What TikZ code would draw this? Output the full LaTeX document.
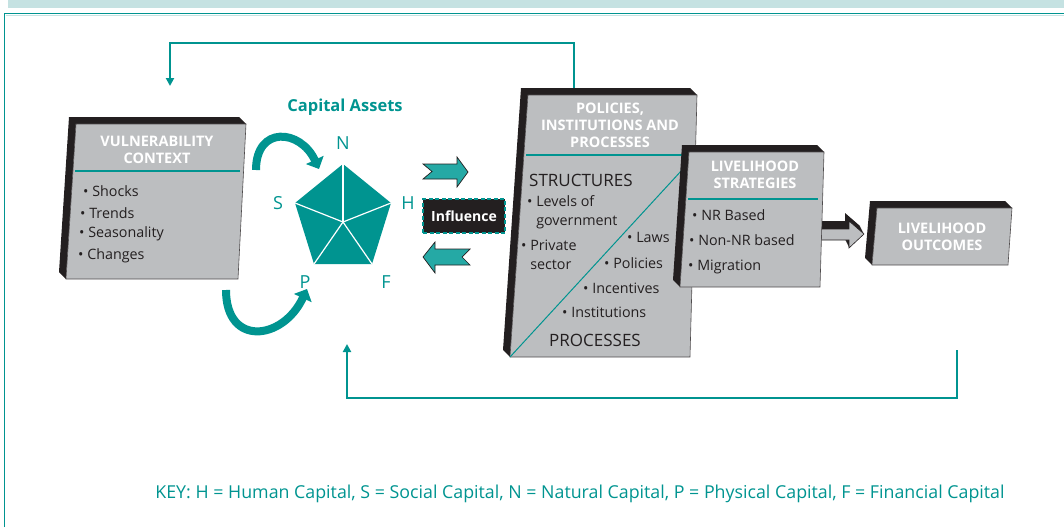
\documentclass[tikz,border=0pt]{standalone}
\usepackage{fontspec}
\setmainfont{Open Sans}
\usetikzlibrary{positioning, arrows.meta, calc}
\definecolor{assetteal}{HTML}{009490}
\definecolor{arrowteal}{HTML}{25A9A5}
\definecolor{bandteal}{HTML}{C5E2E2}
\definecolor{slabgray}{HTML}{BCBEC0}
\definecolor{slabdark}{HTML}{231F20}
\tikzset{
  slabface/.style = {fill=slabgray, draw=slabdark!80, line width=0.6pt},
  slabedge/.style = {fill=slabdark},
  head/.style     = {font=\fontsize{14.5}{17}\selectfont\bfseries, text=white, align=center, inner sep=0pt},
  entry/.style    = {font=\fontsize{14.3}{19}\selectfont, text=slabdark, anchor=west, inner sep=0pt, align=left},
  bigword/.style  = {font=\fontsize{17}{19}\selectfont, text=slabdark, anchor=west, inner sep=0pt},
  letter/.style   = {font=\fontsize{18}{19}\selectfont, text=assetteal, inner sep=0pt},
  sepline/.style  = {draw=assetteal, line width=1.4pt},
  feedback/.style = {draw=assetteal, line width=2.6pt, -{Triangle[length=8pt,width=8pt]}},
  swoop/.style    = {draw=assetteal, line width=8pt, -{Triangle[length=10pt,width=19pt]}},
  blockarrow/.style = {fill=arrowteal, draw=slabdark, line width=0.7pt, line join=miter},
  influence/.style  = {fill=slabdark, draw=assetteal, line width=2.2pt, dash pattern=on 4pt off 2.5pt,
                       text=white, font=\fontsize{14}{15}\selectfont\bfseries,
                       minimum width=82pt, minimum height=34pt, inner sep=1pt},
}
% slab with a dark edge along its top and left side: TL, TR, BR, BL
\newcommand{\slab}[4]{%
  \fill[slabedge] ($#1+(-7,-7)$) -- ($#2+(-7,-7)$) -- #2 -- #1 -- #4 -- ($#4+(-7,-7)$) -- cycle;
  \filldraw[slabface] #1 -- #2 -- #3 -- #4 -- cycle;}
\newcommand{\bul}[2]{\begin{tabular}{@{}l@{~}l@{}}\textbullet & #1\\ & #2\end{tabular}}

\begin{document}
\begin{tikzpicture}[x=1pt, y=-1pt]
\useasboundingbox (0,0) rectangle (1064,527);

% page band and frame
\fill[bandteal] (8,0) rectangle (1064,8);
\draw[assetteal, line width=1pt] (4.5,527) -- (4.5,13.5) -- (1064,13.5);
\draw[bandteal, line width=1.2pt] (5.5,15.5) -- (1064,15.5);

% corners of the slabs
\coordinate (vc-tl) at (76,124);  \coordinate (vc-tr) at (246,124);
\coordinate (vc-br) at (238,279); \coordinate (vc-bl) at (66,279);
\coordinate (pip-tl) at (528,95);  \coordinate (pip-tr) at (697,95);
\coordinate (pip-br) at (690,357); \coordinate (pip-bl) at (510,357);
\coordinate (ls-tl) at (689,152);  \coordinate (ls-tr) at (824,152);
\coordinate (ls-br) at (820,287);  \coordinate (ls-bl) at (680,287);
\coordinate (lo-tl) at (877,208);  \coordinate (lo-tr) at (1012,208);
\coordinate (lo-br) at (1008,265); \coordinate (lo-bl) at (872,265);

% feedback loops
\coordinate (pip-top) at (574,90);
\coordinate (vc-drop) at (170,86);
\coordinate (lo-rise) at (957,350);
\coordinate (ca-rise) at (347,344);
\draw[feedback] (pip-top) -- ++(0,-47) -| (vc-drop);
\draw[feedback] (lo-rise) -- ++(0,48) -| (ca-rise);

% vulnerability context
\slab{(vc-tl)}{(vc-tr)}{(vc-br)}{(vc-bl)}
\node[head] (vc-head) at (157,150) {VULNERABILITY\\CONTEXT};
\draw[sepline] (75,171) -- (240,171);
\node[entry] (vc-1) at (83,191) {\textbullet~Shocks};
\node[entry] (vc-2) at (80,213) {\textbullet~Trends};
\node[entry] (vc-3) at (79,234) {\textbullet~Seasonality};
\node[entry] (vc-4) at (78,256) {\textbullet~Changes};

% capital assets pentagon
\node[font=\fontsize{16.5}{17}\selectfont\bfseries, text=assetteal] (ca-title) at (345,107) {Capital Assets};
\coordinate (pN) at (343,164); \coordinate (pH) at (391,203);
\coordinate (pF) at (372,264); \coordinate (pP) at (314,264);
\coordinate (pS) at (295,203); \coordinate (pC) at (343,222);
\fill[assetteal] (pN) -- (pH) -- (pF) -- (pP) -- (pS) -- cycle;
\foreach \v in {pN,pH,pF,pP,pS}
  \draw[white, line width=1.2pt] (pC) -- (\v);
\node[letter] (lN) at (343,143) {N};
\node[letter] (lH) at (408,203) {H};
\node[letter] (lF) at (386,282) {F};
\node[letter] (lP) at (305,282) {P};
\node[letter] (lS) at (278,203) {S};
\draw[swoop] (256,170) to[out=90, in=115, looseness=1.8] (319,169);
\draw[swoop] (226,290) to[out=-90, in=-115, looseness=1.8] (307,289);

% two-way influence
\filldraw[blockarrow] (423,164) -- (457,164) -- (457,157) -- (468,172) -- (457,187)
  -- (457,179) -- (423,179) -- (432,171.5) -- cycle;
\filldraw[blockarrow] (470,249) -- (435,249) -- (435,242) -- (423,257) -- (435,273)
  -- (435,265) -- (470,265) -- (462,257) -- cycle;
\node[influence] (infl) at (464,216) {Influence};

% policies, institutions and processes
\slab{(pip-tl)}{(pip-tr)}{(pip-br)}{(pip-bl)}
\draw[assetteal, line width=1pt] (pip-bl) -- (682,170);
\node[head] (pip-head) at (610,125) {POLICIES,\\INSTITUTIONS AND\\PROCESSES};
\draw[sepline] (526,155) -- (682,155);
\node[bigword] (structures) at (529,180) {STRUCTURES};
\node[entry, anchor=north west] (pip-1) at (527,193) {\bul{Levels of}{government}};
\node[entry, anchor=north west] (pip-2) at (521,237) {\bul{Private}{sector}};
\node[entry] (pip-3) at (627,237) {\textbullet~Laws};
\node[entry] (pip-4) at (604,263) {\textbullet~Policies};
\node[entry] (pip-5) at (583,288) {\textbullet~Incentives};
\node[entry] (pip-6) at (562,312) {\textbullet~Institutions};
\node[bigword] (processes) at (549,340) {PROCESSES};

% strategies lead to outcomes
\foreach \s in {1,...,8}
  \fill[slabdark, shift={(-0.5*\s,-\s)}] (821,229) -- (849,229) -- (849,221) -- (864,234)
    -- (849,248) -- (849,240) -- (821,240) -- cycle;
\filldraw[fill=slabgray, draw=slabdark, line width=0.6pt] (821,229) -- (849,229) -- (849,221)
  -- (864,234) -- (849,248) -- (849,240) -- (821,240) -- cycle;

% livelihood strategies
\slab{(ls-tl)}{(ls-tr)}{(ls-br)}{(ls-bl)}
\node[head] (ls-head) at (755,175) {LIVELIHOOD\\STRATEGIES};
\draw[sepline] (688,199) -- (818,199);
\node[entry] (ls-1) at (692,215) {\textbullet~NR Based};
\node[entry] (ls-2) at (689,240) {\textbullet~Non-NR based};
\node[entry] (ls-3) at (688,267) {\textbullet~Migration};

% livelihood outcomes
\slab{(lo-tl)}{(lo-tr)}{(lo-br)}{(lo-bl)}
\node[head] (lo-head) at (942,237) {LIVELIHOOD\\OUTCOMES};

% key
\node[font=\fontsize{17.8}{19}\selectfont, text=assetteal] (key) at (580,494)
  {KEY: H = Human Capital, S = Social Capital, N = Natural Capital, P = Physical Capital, F = Financial Capital};

\end{tikzpicture}
\end{document}
